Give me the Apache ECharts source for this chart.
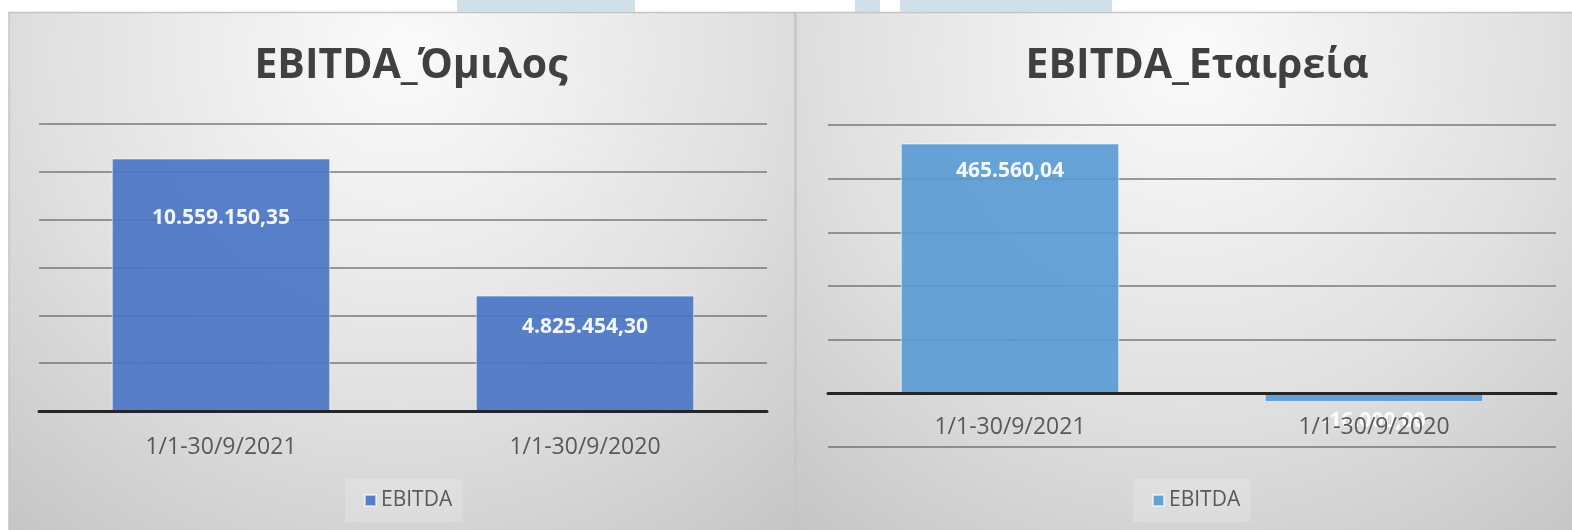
<!DOCTYPE html>
<html>
<head>
<meta charset="utf-8">
<script src="https://cdn.jsdelivr.net/npm/echarts@6/dist/echarts.min.js"></script>
<style>
html,body{margin:0;padding:0;background:#fff;}
#chart{width:1572px;height:530px;}
</style>
</head>
<body>
<div id="chart"></div>
<script>
const categories = ['1/1-30/9/2021', '1/1-30/9/2020'];
const groupValues = [10559150.35, 4825454.30];
const companyValues = [465560.04, -16000];
const panelTitles = ['EBITDA_Όμιλος', 'EBITDA_Εταιρεία'];
const seriesNames = ['EBITDA_Όμιλος', 'EBITDA_Εταιρεία'];
const legendText = 'EBITDA';

function fmt(v) {
  const neg = v < 0;
  const parts = Math.abs(v).toFixed(2).split('.');
  const intPart = parts[0].replace(/\B(?=(\d{3})+(?!\d))/g, '.');
  return (neg ? '-' : '') + intPart + ',' + parts[1];
}

const FONT = '"Open Sans", "Noto Sans", sans-serif';
const chart = echarts.init(document.getElementById('chart'));

function panelBg(x, w) {
  return {
    type: 'rect',
    silent: true,
    z: -10,
    shape: { x: x, y: 12.5, width: w, height: 520 },
    style: {
      fill: {
        type: 'radial', x: 0.5, y: 0.08, r: 1.25,
        colorStops: [
          { offset: 0, color: '#fbfbfb' },
          { offset: 0.55, color: '#e0e0e0' },
          { offset: 1, color: '#c2c2c2' }
        ]
      },
      stroke: '#c4c4c4',
      lineWidth: 1.5
    }
  };
}
function mark(x, w) {
  return { type: 'rect', silent: true, z: -5, shape: { x: x, y: 0, width: w, height: 12 }, style: { fill: '#cfe0ea' } };
}

const labelBase = { show: true, color: '#ffffff', fontFamily: FONT, fontWeight: 'bold', fontSize: 21 };

const option = {
  animation: false,
  backgroundColor: '#ffffff',
  graphic: [
    panelBg(9, 786), panelBg(796, 790),
    mark(457, 178), mark(855, 25), mark(900, 212)
  ],
  title: [
    { text: panelTitles[0], left: 406, top: 41, textAlign: 'center',
      textStyle: { fontFamily: FONT, fontWeight: 'bold', fontSize: 41, color: '#404040' } },
    { text: panelTitles[1], left: 1192, top: 41, textAlign: 'center',
      textStyle: { fontFamily: FONT, fontWeight: 'bold', fontSize: 41, color: '#404040' } }
  ],
  legend: [
    { data: [seriesNames[0]], left: 345, top: 479, padding: [11, 10, 11, 19],
      backgroundColor: 'rgba(255,255,255,0.18)', itemWidth: 11, itemHeight: 11, icon: 'rect',
      formatter: () => legendText,
      textStyle: { fontFamily: FONT, fontSize: 21, color: '#595959' } },
    { data: [seriesNames[1]], left: 1133, top: 479, padding: [11, 10, 11, 19],
      backgroundColor: 'rgba(255,255,255,0.18)', itemWidth: 11, itemHeight: 11, icon: 'rect',
      formatter: () => legendText,
      textStyle: { fontFamily: FONT, fontSize: 21, color: '#595959' } }
  ],
  grid: [
    { left: 39, right: 805, top: 124, bottom: 119 },
    { left: 828, right: 16, top: 125, bottom: 83 }
  ],
  xAxis: [0, 1].map(i => ({
    type: 'category', gridIndex: i, data: categories, z: 3,
    axisLine: { lineStyle: { color: '#262626', width: 3 } },
    axisTick: { show: false },
    axisLabel: { fontFamily: FONT, fontSize: 23, color: '#595959', margin: i === 0 ? 25 : -31 }
  })),
  yAxis: [
    { type: 'value', gridIndex: 0, min: 0, max: 12000000, interval: 2000000,
      axisLabel: { show: false }, axisLine: { show: false }, axisTick: { show: false },
      splitLine: { lineStyle: { color: 'rgba(90,90,90,0.58)', width: 2 } } },
    { type: 'value', gridIndex: 1, min: -100000, max: 500000, interval: 100000,
      axisLabel: { show: false }, axisLine: { show: false }, axisTick: { show: false },
      splitLine: { lineStyle: { color: 'rgba(90,90,90,0.58)', width: 2 } } }
  ],
  series: [
    { type: 'bar', name: seriesNames[0], xAxisIndex: 0, yAxisIndex: 0, barWidth: '60%', z: 2,
      itemStyle: { color: '#4a76c6', opacity: 0.92, borderColor: 'rgba(255,255,255,0.6)', borderWidth: 1 },
      data: groupValues.map((v, i) => ({
        value: v,
        label: Object.assign({}, labelBase, { position: 'insideTop', distance: i === 0 ? 49 : 21 })
      })),
      label: Object.assign({}, labelBase, { formatter: p => fmt(p.value) })
    },
    { type: 'bar', name: seriesNames[1], xAxisIndex: 1, yAxisIndex: 1, barWidth: '60%', z: 2,
      itemStyle: { color: '#5b9bd5', opacity: 0.92, borderColor: 'rgba(255,255,255,0.6)', borderWidth: 1 },
      data: companyValues.map(v => ({
        value: v,
        label: Object.assign({}, labelBase, v >= 0 ? { position: 'insideTop', distance: 17 } : { position: 'bottom', distance: 9 })
      })),
      label: Object.assign({}, labelBase, { formatter: p => fmt(p.value) })
    }
  ]
};
chart.setOption(option);
</script>
</body>
</html>
